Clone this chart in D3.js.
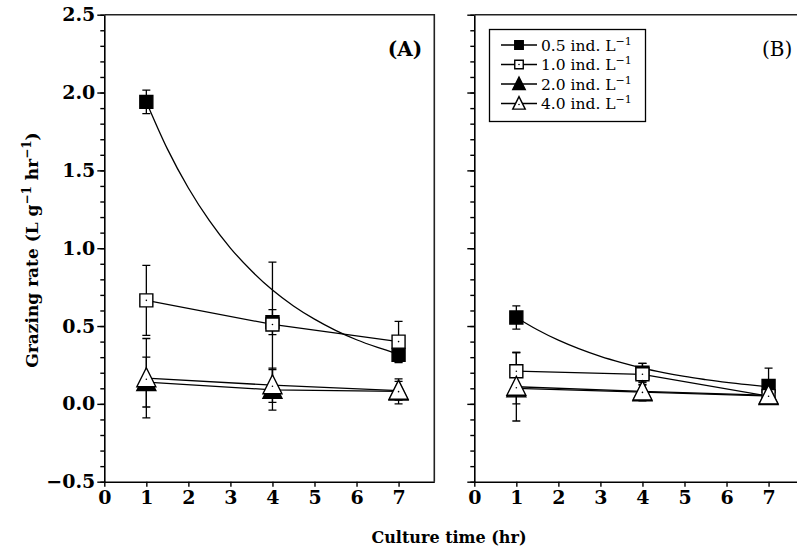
<!DOCTYPE html>
<html>
<head>
<meta charset="utf-8">
<script src="https://cdn.jsdelivr.net/npm/d3@7"></script>
<style>
body { margin: 0; background: #fff; }
svg { display: block; }
</style>
</head>
<body>
<div id="chart"></div>
<script>
var width = 797;
var height = 551;

// tick labels
var xTicks = [0, 1, 2, 3, 4, 5, 6, 7];
var yTicks = [-0.5, 0, 0.5, 1.0, 1.5, 2.0, 2.5];

// sampling times (hr)
var times = [1, 4, 7];

// series: prey density (ind. L-1)
var densities = ["0.5", "1.0", "2.0", "4.0"];

// panel A: mean grazing rate and error
var meanA05 = [1.94, 0.525, 0.315];
var errA05 = [0.075, 0.08, 0.05];
var meanA10 = [0.665, 0.51, 0.40];
var errA10 = [0.225, 0.40, 0.13];
var meanA20 = [0.14, 0.09, 0.08];
var errA20 = [0.16, 0.13, 0.08];
var meanA40 = [0.165, 0.12, 0.085];
var errA40 = [0.255, 0.11, 0.06];

// panel B: mean grazing rate and error
var meanB05 = [0.555, 0.20, 0.115];
var errB05 = [0.075, 0.06, 0.115];
var meanB10 = [0.21, 0.19, 0.05];
var errB10 = [0.12, 0.07, 0.04];
var meanB20 = [0.10, 0.075, 0.05];
var errB20 = [0.10, 0.05, 0.05];
var meanB40 = [0.11, 0.08, 0.055];
var errB40 = [0.22, 0.06, 0.05];

// fitted decay curve for 0.5 ind. L-1
var fitX = [1, 1.5, 2, 2.5, 3, 3.5, 4, 4.5, 5, 5.5, 6, 6.5, 7];
var fitA05 = [1.94, 1.638, 1.387, 1.177, 1.001, 0.855, 0.731, 0.629, 0.544, 0.472, 0.412, 0.363, 0.320];
var fitB05 = [0.555, 0.476, 0.409, 0.353, 0.305, 0.265, 0.230, 0.201, 0.176, 0.156, 0.138, 0.123, 0.110];

var serif = "'DejaVu Serif', serif";

var svg = d3.select("#chart")
    .append("svg")
    .attr("width", width)
    .attr("height", height)
    .style("font-family", serif);

var plotTop = 14.7;
var plotBottom = 481.7;
var panelWidth = 330;

var y = d3.scaleLinear()
    .domain([-0.5, 2.5])
    .range([plotBottom, plotTop]);

/*
    marker shapes: filled square, open square,
    filled triangle, open triangle
*/
var styles = [
    { shape: "square", fill: "#000" },
    { shape: "square", fill: "#fff" },
    { shape: "triangle", fill: "#000" },
    { shape: "triangle", fill: "#fff" }
];

function markerPath(shape, s) {
    if (shape == "square") {
        var h = s / 2;
        return "M" + (-h) + "," + (-h) + "H" + h + "V" + h + "H" + (-h) + "Z";
    }
    var w = s / 2;
    return "M0," + (-s * 0.55) + "L" + w + "," + (s * 0.45) + "L" + (-w) + "," + (s * 0.45) + "Z";
}

function drawMarker(g, st, cx, cy, size) {
    g.append("path")
        .attr("transform", "translate(" + cx + "," + cy + ")")
        .attr("d", markerPath(st.shape, size))
        .attr("fill", st.fill)
        .attr("stroke", "#000")
        .attr("stroke-width", 1.4)
        .attr("stroke-linejoin", "miter");
    if (st.fill == "#fff") {
        g.append("circle")
            .attr("cx", cx)
            .attr("cy", cy + (st.shape == "triangle" ? 1 : 0))
            .attr("r", 0.8)
            .attr("fill", "#000");
    }
}

function drawPanel(x0, label, labelWeight, means, errs, fit) {
    var x = d3.scaleLinear()
        .domain([0, 7.85])
        .range([x0, x0 + panelWidth]);

    var g = svg.append("g");

    // frame: top and right border
    g.append("path")
        .attr("d", "M" + x0 + "," + plotTop + "H" + (x0 + panelWidth) + "V" + plotBottom)
        .attr("fill", "none")
        .attr("stroke", "#222")
        .attr("stroke-width", 1.6);

    // minor y ticks
    g.append("g")
        .attr("transform", "translate(" + x0 + ",0)")
        .call(d3.axisLeft(y)
            .tickValues(d3.range(-5, 26).map(function (d) { return d / 10; }))
            .tickSize(4)
            .tickSizeOuter(0)
            .tickFormat(""))
        .call(function (a) {
            a.select(".domain").remove();
            a.selectAll("line").attr("stroke-width", 1.4);
        });

    // major y ticks
    var yAxis = g.append("g")
        .attr("transform", "translate(" + x0 + ",0)")
        .call(d3.axisLeft(y)
            .tickValues(yTicks)
            .tickSize(7)
            .tickSizeOuter(0)
            .tickPadding(2)
            .tickFormat(x0 < 200 ? d3.format(".1f") : ""));
    yAxis.select(".domain").attr("stroke-width", 1.6);
    yAxis.selectAll("line").attr("stroke-width", 1.4);
    yAxis.selectAll("text")
        .style("font-family", serif)
        .style("font-size", "19px")
        .style("font-weight", "bold")
        .attr("fill", "#000");

    // x axis
    var xAxis = g.append("g")
        .attr("transform", "translate(0," + plotBottom + ")")
        .call(d3.axisBottom(x)
            .tickValues(xTicks)
            .tickSize(5)
            .tickSizeOuter(0)
            .tickPadding(4)
            .tickFormat(d3.format("d")));
    xAxis.select(".domain").attr("stroke-width", 1.6);
    xAxis.selectAll("line").attr("stroke-width", 1.4);
    xAxis.selectAll("text")
        .style("font-family", serif)
        .style("font-size", "19px")
        .style("font-weight", "bold")
        .attr("fill", "#000");

    // fitted curve for 0.5 ind. L-1
    var curve = d3.line()
        .x(function (d, i) { return x(fitX[i]); })
        .y(function (d) { return y(d); })
        .curve(d3.curveMonotoneX);

    g.append("path")
        .attr("d", curve(fit))
        .attr("fill", "none")
        .attr("stroke", "#000")
        .attr("stroke-width", 1.3);

    // straight connecting lines for the other densities
    var line = d3.line()
        .x(function (d, i) { return x(times[i]); })
        .y(function (d) { return y(d); });

    for (var s = 1; s < means.length; s++) {
        g.append("path")
            .attr("d", line(means[s]))
            .attr("fill", "none")
            .attr("stroke", "#000")
            .attr("stroke-width", 1.3);
    }

    // error bars
    for (var s = 0; s < means.length; s++) {
        for (var i = 0; i < times.length; i++) {
            var cx = x(times[i]);
            var hi = y(means[s][i] + errs[s][i]);
            var lo = y(means[s][i] - errs[s][i]);
            g.append("path")
                .attr("d", "M" + cx + "," + hi + "V" + lo +
                    "M" + (cx - 4) + "," + hi + "H" + (cx + 4) +
                    "M" + (cx - 4) + "," + lo + "H" + (cx + 4))
                .attr("fill", "none")
                .attr("stroke", "#000")
                .attr("stroke-width", 1.3);
        }
    }

    // markers
    for (var s = 0; s < means.length; s++) {
        for (var i = 0; i < times.length; i++) {
            var size = styles[s].shape == "square" ? 13 : 19;
            drawMarker(g, styles[s], x(times[i]), y(means[s][i]), size);
        }
    }

    // panel label
    g.append("text")
        .attr("x", x0 + panelWidth - 12)
        .attr("y", 56)
        .attr("text-anchor", "end")
        .style("font-size", "20px")
        .style("font-weight", labelWeight)
        .text(label);
}

drawPanel(104.3, "(A)", "bold",
    [meanA05, meanA10, meanA20, meanA40],
    [errA05, errA10, errA20, errA40],
    fitA05);

drawPanel(474.3, "(B)", "normal",
    [meanB05, meanB10, meanB20, meanB40],
    [errB05, errB10, errB20, errB40],
    fitB05);

/*
    Legend
*/
var legend = svg.append("g");

legend.append("rect")
    .attr("x", 489.5)
    .attr("y", 29.5)
    .attr("width", 156)
    .attr("height", 92)
    .attr("fill", "#fff")
    .attr("stroke", "#000")
    .attr("stroke-width", 1.3);

var rowY = [45, 64.5, 84, 103.5];

densities.forEach(function (d, i) {
    var ry = rowY[i];
    legend.append("line")
        .attr("x1", 501)
        .attr("x2", 537)
        .attr("y1", ry)
        .attr("y2", ry)
        .attr("stroke", "#000")
        .attr("stroke-width", 1.3);
    var size = styles[i].shape == "square" ? 8.5 : 12.5;
    drawMarker(legend, styles[i], 519, ry, size);

    var t = legend.append("text")
        .attr("x", 541)
        .attr("y", ry + 5.5)
        .style("font-size", "15.5px");
    t.append("tspan").text(d + " ind. L");
    t.append("tspan")
        .attr("dy", -6)
        .style("font-size", "11px")
        .text("\u22121");
});

/*
    Axis titles
*/
svg.append("text")
    .attr("x", 449)
    .attr("y", 543)
    .attr("text-anchor", "middle")
    .style("font-size", "16px")
    .style("font-weight", "bold")
    .text("Culture time (hr)");

var yTitle = svg.append("text")
    .attr("transform", "translate(38,250) rotate(-90)")
    .attr("text-anchor", "middle")
    .style("font-size", "17px")
    .style("font-weight", "bold");
yTitle.append("tspan").text("Grazing rate (L g");
yTitle.append("tspan").attr("dy", -7).style("font-size", "12px").text("\u22121");
yTitle.append("tspan").attr("dy", 7).text(" hr");
yTitle.append("tspan").attr("dy", -7).style("font-size", "12px").text("\u22121");
yTitle.append("tspan").attr("dy", 7).text(")");
</script>
</body>
</html>
